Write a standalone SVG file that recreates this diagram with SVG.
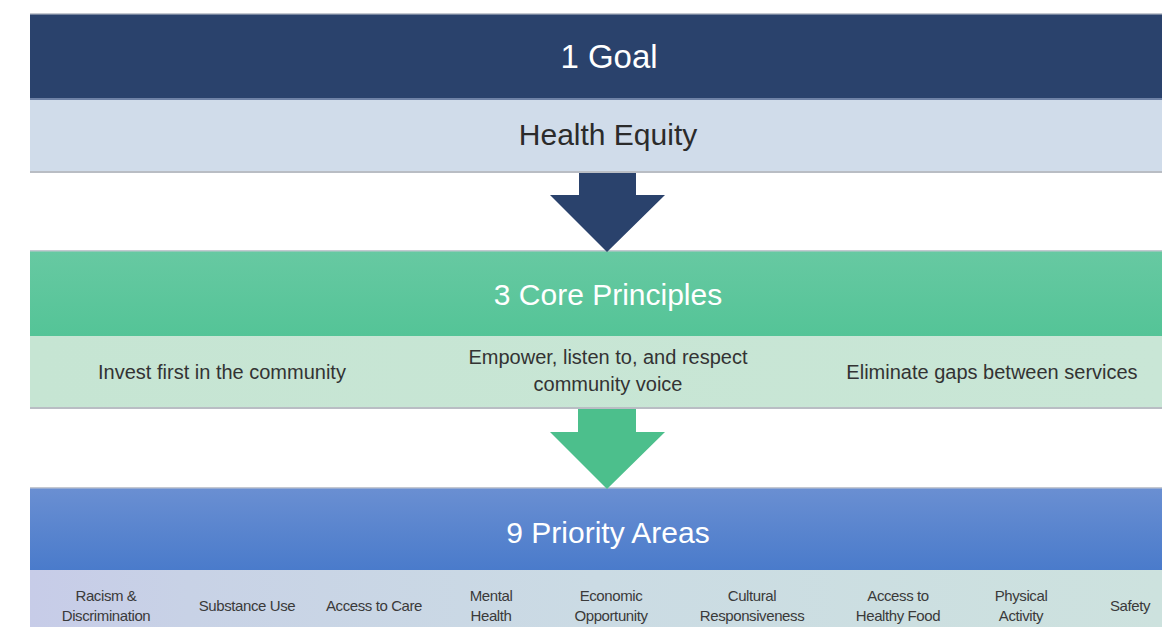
<svg xmlns="http://www.w3.org/2000/svg" width="1162" height="636" viewBox="0 0 1162 636">
<defs>
<linearGradient id="gGreen" x1="0" y1="0" x2="0" y2="1"><stop offset="0" stop-color="#67c9a2"/><stop offset="1" stop-color="#54c497"/></linearGradient>
<linearGradient id="gBlue" x1="0" y1="0" x2="0" y2="1"><stop offset="0" stop-color="#6a8fd2"/><stop offset="1" stop-color="#4a7bcb"/></linearGradient>
<linearGradient id="gPri" x1="0" y1="0" x2="1" y2="0"><stop offset="0" stop-color="#c7cce8"/><stop offset="0.14" stop-color="#c8d2e6"/><stop offset="0.5" stop-color="#cbdbe4"/><stop offset="1" stop-color="#cde2de"/></linearGradient>
<linearGradient id="gLg" x1="0" y1="0" x2="1" y2="0"><stop offset="0" stop-color="#c6e5d3"/><stop offset="1" stop-color="#c9e6d6"/></linearGradient>
</defs>
<style>
text{font-family:"Liberation Sans",Arial,sans-serif;text-anchor:middle}
.hd{fill:#ffffff}
.sub{fill:#2b2b2b}
.pr{fill:#333333;font-size:20px}
.pa{fill:#3a3a3a;font-size:15px;letter-spacing:-0.4px}
.edge{fill:#b9bdc4}
</style>
<rect width="1162" height="636" fill="#ffffff"/>
<g id="goal">
<rect x="30" y="14" width="1132" height="85" fill="#2a426c"/>
<rect x="30" y="13" width="1132" height="1.5" fill="#c4c8d0"/>
<text class="hd" x="609" y="68" font-size="33">1 Goal</text>
</g>
<g id="health-equity">
<rect x="30" y="99" width="1132" height="72" fill="#d0dcea"/>
<rect x="30" y="98" width="1132" height="2" fill="#6f82a6"/>
<rect class="edge" x="30" y="171" width="1132" height="2"/>
<text class="sub" x="608" y="145" font-size="30">Health Equity</text>
</g>
<g id="core-principles">
<rect x="30" y="251" width="1132" height="85" fill="url(#gGreen)"/>
<rect x="30" y="250" width="1132" height="1.5" fill="#c4c8d0"/>
<text class="hd" x="608" y="305" font-size="30">3 Core Principles</text>
</g>
<g id="principles">
<rect x="30" y="336" width="1132" height="71" fill="url(#gLg)"/>
<rect class="edge" x="30" y="407" width="1132" height="2"/>
<text class="pr" x="222" y="379">Invest first in the community</text>
<text class="pr" x="608" y="364">Empower, listen to, and respect</text>
<text class="pr" x="608" y="391">community voice</text>
<text class="pr" x="992" y="379">Eliminate gaps between services</text>
</g>
<g id="priority-areas">
<rect x="30" y="488" width="1132" height="82" fill="url(#gBlue)"/>
<rect x="30" y="487" width="1132" height="1.5" fill="#c4c8d0"/>
<text class="hd" x="608" y="543" font-size="30">9 Priority Areas</text>
</g>
<g id="areas">
<rect x="30" y="570" width="1132" height="57" fill="url(#gPri)"/>
<text class="pa" x="106" y="601">Racism &amp;</text>
<text class="pa" x="106" y="621">Discrimination</text>
<text class="pa" x="247" y="611">Substance Use</text>
<text class="pa" x="374" y="611">Access to Care</text>
<text class="pa" x="491" y="601">Mental</text>
<text class="pa" x="491" y="621">Health</text>
<text class="pa" x="611" y="601">Economic</text>
<text class="pa" x="611" y="621">Opportunity</text>
<text class="pa" x="752" y="601">Cultural</text>
<text class="pa" x="752" y="621">Responsiveness</text>
<text class="pa" x="898" y="601">Access to</text>
<text class="pa" x="898" y="621">Healthy Food</text>
<text class="pa" x="1021" y="601">Physical</text>
<text class="pa" x="1021" y="621">Activity</text>
<text class="pa" x="1130" y="611">Safety</text>
</g>
<g id="connectors">
<polygon points="579,173 636,173 636,195 665,195 607,252 550,195 579,195" fill="#2a426c"/>
<polygon points="578,409 636,409 636,432 665,432 607,489 550,432 578,432" fill="#4cbf8c"/>
</g>
</svg>
